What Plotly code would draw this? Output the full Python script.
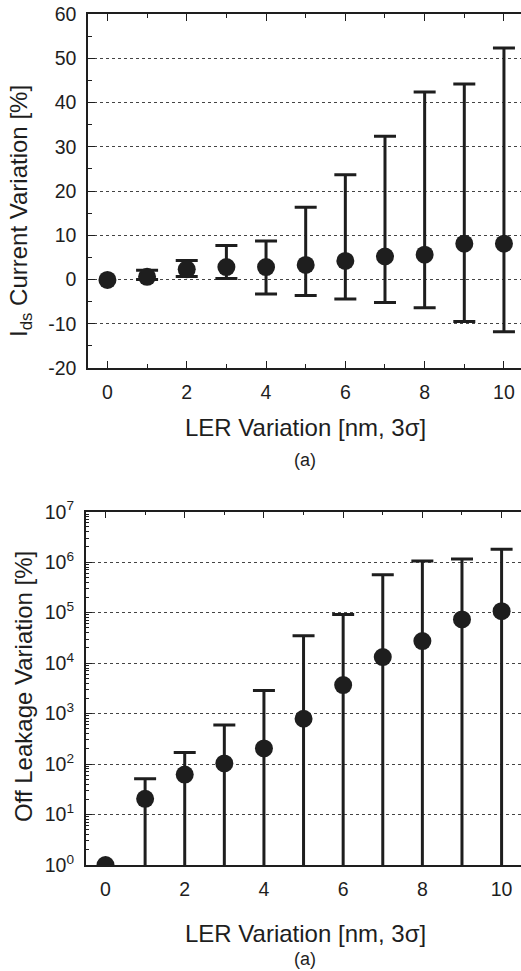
import plotly.graph_objects as go

# LER amplitude (nm, 3 sigma)
ler = [0, 1, 2, 3, 4, 5, 6, 7, 8, 9, 10]

# Ids current variation [%]: mean with min/max spread
ids_mean = [-0.1, 0.6, 2.3, 2.8, 2.8, 3.3, 4.2, 5.2, 5.6, 8.1, 8.1]
ids_max = [-0.1, 2.1, 4.3, 7.7, 8.7, 16.3, 23.7, 32.4, 42.4, 44.2, 52.3]
ids_min = [-0.1, 0.0, 0.7, 0.2, -3.3, -3.6, -4.4, -5.2, -6.4, -9.5, -11.8]

# Off-state leakage variation [%]: mean with min/max spread
leak_mean = [1, 20.5, 62, 103, 204, 790, 3670, 13200, 27300, 73200, 107000]
leak_max = [1, 51, 170, 592, 2880, 34800, 92000, 561000, 1.05e6, 1.15e6, 1.81e6]
leak_min = [1, 0, 0, 0, 0, 0, 0, 0, 0, 0, 0]

ids_ticks = [-20, -10, 0, 10, 20, 30, 40, 50, 60]
ids_tick_labels = ["-20", "-10", "0", "10", "20", "30", "40", "50", "60"]
leak_exp = [0, 1, 2, 3, 4, 5, 6, 7]
ler_ticks = [0, 2, 4, 6, 8, 10]

INK = "#1e1e1e"
FONT = "Liberation Sans, Arial, Helvetica, sans-serif"
W, H = 521, 971


def px_x(p):
    return p / W


def px_y(p):
    return 1 - p / H


fig = go.Figure()

# ---- panel 1: drain current ----
fig.add_trace(go.Scatter(
    x=ler[1:], y=ids_mean[1:], mode="markers",
    marker=dict(size=1, color="rgba(0,0,0,0)"),
    error_y=dict(type="data", symmetric=False,
                 array=[hi - m for hi, m in zip(ids_max[1:], ids_mean[1:])],
                 arrayminus=[m - lo for lo, m in zip(ids_min[1:], ids_mean[1:])],
                 color=INK, thickness=3, width=11),
    xaxis="x", yaxis="y", showlegend=False, hoverinfo="skip"))
fig.add_trace(go.Scatter(
    x=ler, y=ids_mean, mode="markers",
    marker=dict(size=18, color=INK),
    xaxis="x", yaxis="y", showlegend=False))

# ---- panel 2: off leakage ----
fig.add_trace(go.Scatter(
    x=ler[1:], y=leak_mean[1:], mode="markers",
    marker=dict(size=1, color="rgba(0,0,0,0)"),
    error_y=dict(type="data", symmetric=False,
                 array=[hi - m for hi, m in zip(leak_max[1:], leak_mean[1:])],
                 arrayminus=[m - lo for lo, m in zip(leak_min[1:], leak_mean[1:])],
                 color=INK, thickness=3, width=11),
    xaxis="x2", yaxis="y2", showlegend=False, hoverinfo="skip"))
fig.add_trace(go.Scatter(
    x=ler, y=leak_mean, mode="markers",
    marker=dict(size=18, color=INK),
    xaxis="x2", yaxis="y2", showlegend=False))

tickfont = dict(family=FONT, size=19.5, color=INK)
grid = dict(showgrid=True, gridcolor="#444", gridwidth=1, griddash="dot")

xcommon = dict(
    tickmode="array", tickvals=ler_ticks, ticks="inside", ticklen=7,
    tickwidth=1.3, tickcolor=INK, showline=True, linecolor=INK, linewidth=1.5,
    mirror="ticks", showgrid=False, zeroline=False, tickfont=tickfont,
    ticklabelstandoff=6, automargin=False,
    minor=dict(tickmode="array", tickvals=ler, ticks="inside", ticklen=4,
               tickwidth=1.2, tickcolor=INK, showgrid=False),
)

fig.update_layout(
    width=W, height=H, autosize=False,
    margin=dict(l=0, r=0, t=0, b=0, pad=0, autoexpand=False),
    paper_bgcolor="white", plot_bgcolor="white",
    font=dict(family=FONT, color=INK),
    showlegend=False,
    xaxis=dict(domain=[px_x(88), 1], range=[-0.49, 10.43], anchor="y", **xcommon),
    yaxis=dict(domain=[px_y(368), px_y(14)], range=[-20, 60], anchor="x",
               tickmode="array", tickvals=ids_ticks, ticktext=ids_tick_labels,
               ticks="inside", ticklen=7,
               tickwidth=1.3, tickcolor=INK, showline=True, linecolor=INK,
               linewidth=1.5, zeroline=False, tickfont=tickfont,
               ticklabelstandoff=6, automargin=False,
               minor=dict(tickmode="array",
                          tickvals=[-15, -5, 5, 15, 25, 35, 45, 55],
                          ticks="inside", ticklen=4, tickwidth=1.2,
                          tickcolor=INK, showgrid=False),
               **grid),
    xaxis2=dict(domain=[px_x(85.7), 1], range=[-0.5, 10.49], anchor="y2", **xcommon),
    yaxis2=dict(domain=[px_y(865), px_y(511.7)], type="log", range=[0, 7],
                anchor="x2",
                tickmode="array", tickvals=[10 ** e for e in leak_exp],
                ticktext=["10<sup>%d</sup>" % e for e in leak_exp],
                ticks="inside", ticklen=7, tickwidth=1.3, tickcolor=INK,
                showline=True, linecolor=INK, linewidth=1.5, zeroline=False,
                tickfont=tickfont, ticklabelstandoff=6, automargin=False,
                minor=dict(tickmode="array",
                           tickvals=[m * 10 ** e for e in leak_exp[:-1] for m in range(2, 10)],
                           ticks="inside", ticklen=4, tickwidth=1.1,
                           tickcolor=INK, showgrid=False),
                **grid),
)

title_font = dict(family=FONT, size=24, color=INK)
cap_font = dict(family=FONT, size=18, color=INK)

annotations = [
    dict(text="LER Variation [nm, 3σ]", x=px_x(305), y=px_y(427), font=title_font),
    dict(text="(a)", x=px_x(305), y=px_y(460), font=cap_font),
    dict(text="I<sub>ds</sub> Current Variation [%]", x=px_x(21), y=px_y(211),
         textangle=-90, font=title_font),
    dict(text="LER Variation [nm, 3σ]", x=px_x(305), y=px_y(933), font=title_font),
    dict(text="(a)", x=px_x(305), y=px_y(959), font=cap_font),
    dict(text="Off Leakage Variation [%]", x=px_x(23), y=px_y(687),
         textangle=-90, font=title_font),
]
for a in annotations:
    fig.add_annotation(xref="paper", yref="paper", showarrow=False,
                       xanchor="center", yanchor="middle", **a)

fig.write_html("out.html")
